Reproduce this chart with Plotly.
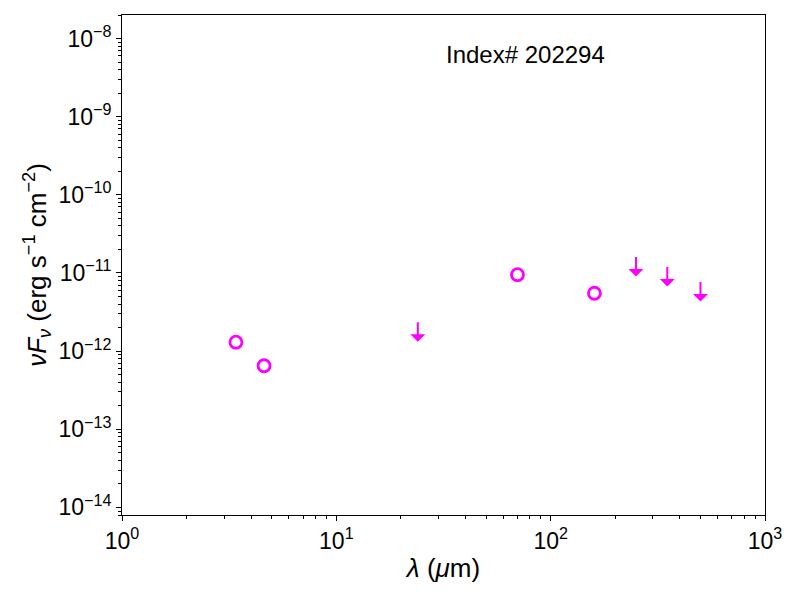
import numpy as np
import plotly.graph_objects as go

# --- data ---
# detections (WISE W1/W2, PACS 70/160)
det_wave = [3.4, 4.6, 70, 160]
det_flux = [1.30e-12, 6.5e-13, 9.5e-12, 5.5e-12]

# upper limits (arrow tip values)
lim_wave = [24, 250, 350, 500]
lim_flux = [1.32e-12, 9.0e-12, 6.7e-12, 4.3e-12]

x_tick_exp = [0, 1, 2, 3]
y_tick_exp = [-14, -13, -12, -11, -10, -9, -8]

source_id = "202294"

MAGENTA = "#FF00FF"
FONT = "Liberation Sans, Arial, Helvetica, sans-serif"

fig = go.Figure()

fig.add_trace(go.Scatter(
    x=det_wave, y=det_flux,
    mode="markers",
    marker=dict(symbol="circle-open", size=12, color=MAGENTA,
                line=dict(width=2.8, color=MAGENTA)),
    showlegend=False,
))

# upper limits drawn as downward arrows
annotations = []
for w, f in zip(lim_wave, lim_flux):
    annotations.append(dict(
        x=np.log10(w), y=np.log10(f), xref="x", yref="y",
        ax=0, ay=-21, axref="pixel", ayref="pixel",
        showarrow=True, arrowhead=1, arrowsize=1.25, arrowwidth=2,
        arrowcolor=MAGENTA, text="",
    ))

annotations.append(dict(
    text="Index# " + source_id,
    xref="x domain", yref="y domain", x=0.5, y=0.89,
    xanchor="left", yanchor="bottom", showarrow=False,
    font=dict(size=24, color="black", family=FONT),
))

axis_common = dict(
    type="log",
    showline=True, linecolor="black", linewidth=1, mirror=True,
    ticks="outside", ticklen=5, tickwidth=1, tickcolor="black",
    showgrid=False, zeroline=False,
    tickfont=dict(size=23, color="black", family=FONT),
    minor=dict(ticks="outside", ticklen=3, tickwidth=1, tickcolor="black",
               dtick="D1", showgrid=False),
)

fig.update_xaxes(
    range=[0, 3],
    tickvals=[10.0 ** e for e in x_tick_exp],
    ticktext=["10<sup>%d</sup>" % e for e in x_tick_exp],
    title=dict(text="<i>λ</i> (<i>μ</i>m)", font=dict(size=26, color="black", family=FONT),
               standoff=6),
    **axis_common,
)
fig.update_yaxes(
    range=[np.log10(8e-15), np.log10(2e-8)],
    tickvals=[10.0 ** e for e in y_tick_exp],
    ticktext=["10<sup>−%d</sup>" % -e for e in y_tick_exp],
    title=dict(text="<i>νF</i><sub><i>ν</i></sub> (erg s<sup>−1</sup> cm<sup>−2</sup>)",
               font=dict(size=26, color="black", family=FONT), standoff=4),
    **axis_common,
)

fig.update_layout(
    width=800, height=600,
    margin=dict(l=114, r=43, t=7, b=93),
    plot_bgcolor="white", paper_bgcolor="white",
    font=dict(family=FONT, color="black"),
    annotations=annotations,
)

fig.write_html("out.html")
